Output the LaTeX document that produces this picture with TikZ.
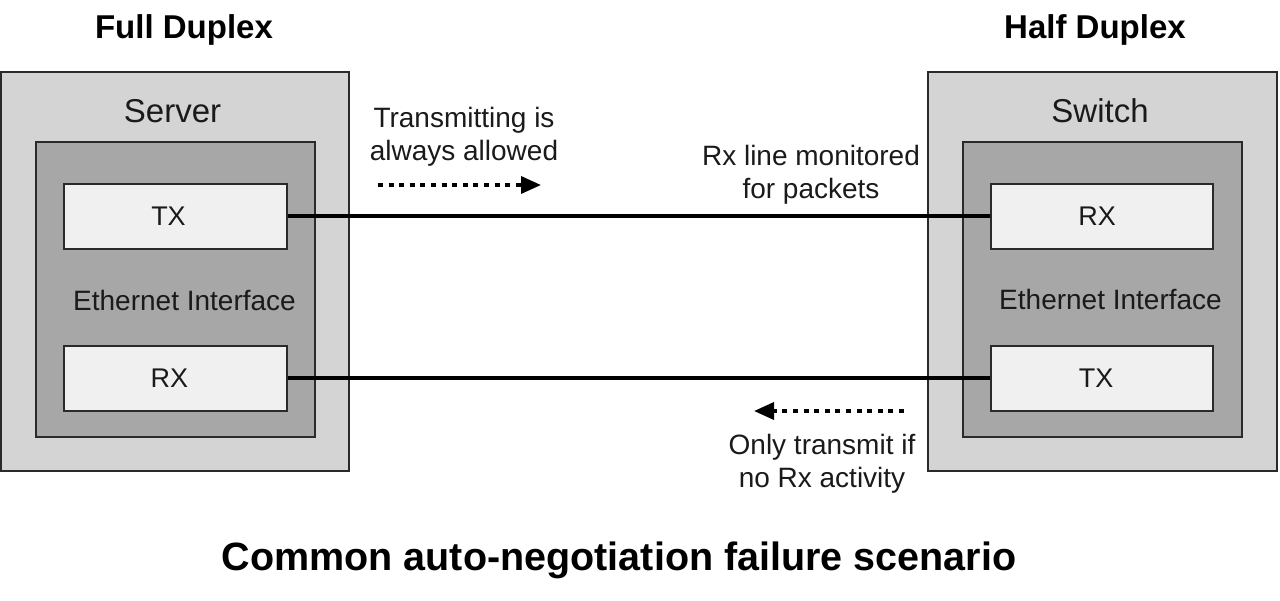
\documentclass[tikz,border=0pt]{standalone}
\usepackage{fontspec}
\setmainfont{Liberation Sans}
\usetikzlibrary{arrows.meta}
\definecolor{outerc}{HTML}{D4D4D4}
\definecolor{innerc}{HTML}{A7A7A7}
\definecolor{portc}{HTML}{F0F0F0}
\definecolor{edgec}{HTML}{2A2A2A}
\definecolor{txtc}{HTML}{1A1A1A}
\tikzset{
  outerbox/.style={draw=edgec, line width=2pt, fill=outerc},
  innerbox/.style={draw=edgec, line width=2pt, fill=innerc},
  portbox/.style={draw=edgec, line width=2pt, fill=portc, inner sep=0pt, minimum width=223pt, minimum height=65pt, font=\fontsize{27}{30}\selectfont, text=txtc},
  boxtitle/.style={anchor=base, inner sep=0pt, font=\fontsize{33}{36}\selectfont, text=txtc},
  iface/.style={anchor=base, inner sep=0pt, font=\fontsize{28}{32}\selectfont, text=txtc},
  lbl/.style={anchor=base, inner sep=0pt, font=\fontsize{28}{33}\selectfont, align=center, text=txtc},
  headline/.style={anchor=base, inner sep=0pt, font=\bfseries\fontsize{33}{36}\selectfont},
  wire/.style={line width=3.5pt, black},
  dotarrow/.style={line width=3.5pt, dash pattern=on 5pt off 5.6pt, -{Triangle[length=20pt,width=17pt]}},
}
\begin{document}
\begin{tikzpicture}[x=1pt,y=-1pt]
\useasboundingbox (0,0) rectangle (1280,600);
% titles
\node[headline] (fd) at (184,38) {Full Duplex};
\node[headline] (hd) at (1095,38) {Half Duplex};
\node[anchor=base, inner sep=0pt, font=\bfseries\fontsize{39.5}{44}\selectfont] (cap) at (619,570) {Common auto-negotiation failure scenario};
% left device
\path[outerbox] (1,72) rectangle (349,471);
\node[boxtitle] (srv) at (172.5,122) {Server};
\path[innerbox] (36,142) rectangle (315,437);
\node[iface] (eil) at (184.5,310) {Ethernet Interface};
\node[portbox] (ltx) at (175.5,216) {TX\kern14pt};
\node[portbox] (lrx) at (175.5,378) {RX\kern12pt};
% right device
\path[outerbox] (928,72) rectangle (1277,471);
\node[boxtitle] (sw) at (1100,122) {Switch};
\path[innerbox] (963,142) rectangle (1242,437);
\node[iface] (eir) at (1110.5,309) {Ethernet Interface};
\node[portbox, minimum width=222pt] (rrx) at (1102,216) {RX\kern10pt};
\node[portbox, minimum width=222pt] (rtx) at (1102,378) {TX\kern12pt};
% wires
\draw[wire] (ltx.east) -- (rrx.west);
\draw[wire] (lrx.east) -- (rtx.west);
% labels (base anchor = baseline of last line)
\node[lbl] (t1) at (464,160) {Transmitting is\\always allowed};
\node[lbl] (t2) at (811,198) {Rx line monitored\\for packets};
\node[lbl] (t3) at (822,487) {Only transmit if\\no Rx activity};
\coordinate (a1s) at (378,185);
\coordinate (a1e) at (541,185);
\coordinate (a2s) at (904,411);
\coordinate (a2e) at (754,411);
\draw[dotarrow] (a1s) -- (a1e);
\draw[dotarrow] (a2s) -- (a2e);
\end{tikzpicture}
\end{document}
